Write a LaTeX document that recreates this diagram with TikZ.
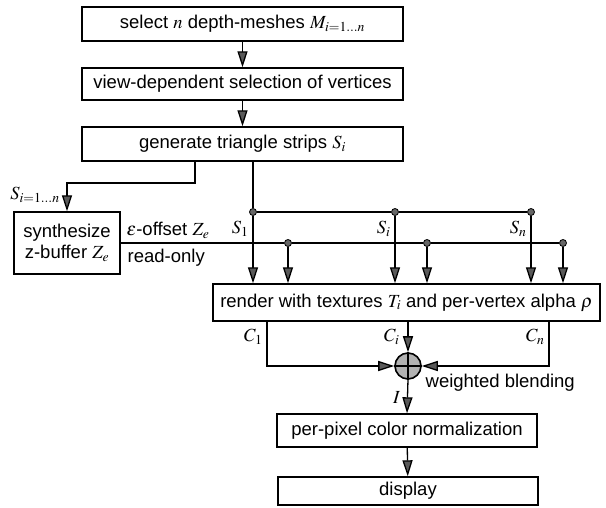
\documentclass[tikz,border=0pt]{standalone}
\usepackage{mathptmx}
\usepackage[no-math]{fontspec}
\setmainfont{Liberation Sans}
\usepackage{tikz}
\usetikzlibrary{arrows.meta,calc}
\newcommand{\diagfont}{\fontsize{18.5}{21}\selectfont}
\tikzset{box/.style={draw,line width=1.4pt,inner sep=0pt,align=center,font=\diagfont}}
\tikzset{arr/.style={line width=1.3pt,-{Triangle[width=10pt,length=16pt,fill=black!65]}}}
\tikzset{dot/.style={circle,draw,fill=black!60,line width=0.8pt,inner sep=0pt,minimum size=7pt}}
\tikzset{lbl/.style={inner sep=1pt,font=\diagfont}}

\begin{document}
\begin{tikzpicture}
[x=1pt,y=-1pt,line width=1.3pt]
\useasboundingbox (0,0) rectangle (606,508);
\node (sel) at (242.5,24)[box,minimum width=321pt,minimum height=34pt]{select $n$ depth-meshes $M_{i=1\ldots n}$};
\node (view) at (242.5,84)[box,minimum width=321pt,minimum height=32pt]{view-dependent selection of vertices};
\node (strips) at (242.5,144)[box,minimum width=321pt,minimum height=34pt]{generate triangle strips $S_i$};
\node (zbuf) at (67,243)[box,minimum width=106pt,minimum height=62pt]{synthesize\\z-buffer $Z_e$};
\node (render) at (406.5,302.5)[box,minimum width=387pt,minimum height=37pt]{render with textures $T_i$ and per-vertex alpha $\rho$};
\node (blend) at (408,366)[circle,draw,fill=black!30,line width=1.6pt,minimum size=26pt,inner sep=0pt]{};
\node (norm) at (407,430.5)[box,minimum width=260pt,minimum height=33pt]{per-pixel color normalization};
\node (disp) at (408,491)[box,minimum width=260pt,minimum height=28pt]{display};

\draw[arr] (sel) -- (view);
\draw[arr] (view) -- (strips);

\coordinate (split) at (195,183);
\draw[arr] (strips.south -| split) -- (split) -| (zbuf.north);
\node (sall) at (35,195)[lbl]{$S_{i=1\ldots n}$};

\node (d1) at (253,212)[dot]{};
\node (d2) at (395,212)[dot]{};
\node (d3) at (531,212)[dot]{};
\node (e1) at (288,243)[dot]{};
\node (e2) at (427,243)[dot]{};
\node (e3) at (563,243)[dot]{};
\draw (strips.south -| d1) -- (d1) -- (d2) -- (d3);
\draw (zbuf.east) -- (e1) -- (e2) -- (e3);
\foreach \d in {d1,d2,d3,e1,e2,e3}
  \draw[arr] (\d) -- (\d |- render.north);

\node (s1) at (250,229)[lbl,anchor=east]{$S_1$};
\node (si) at (392,229)[lbl,anchor=east]{$S_i$};
\node (sn) at (528,229)[lbl,anchor=east]{$S_n$};
\node (off) at (125,230)[lbl,anchor=west]{$\epsilon$-offset $Z_e$};
\node (ro) at (126,258)[lbl,anchor=west]{read-only};

\coordinate (cone) at (267,366);
\coordinate (cn) at (549,366);
\draw[arr] (render.south -| cone) |- (blend.west);
\draw[arr] (render.south -| cn) |- (blend.east);
\draw[arr] (render.south -| blend) -- (blend.north);
\draw (blend.north) -- (blend.south) (blend.west) -- (blend.east);
\node (c1) at (264,337)[lbl,anchor=east]{$C_1$};
\node (ci) at (401,337)[lbl,anchor=east]{$C_i$};
\node (cnl) at (546,337)[lbl,anchor=east]{$C_n$};
\node (wb) at (424,383)[lbl,anchor=west]{weighted blending};

\draw[arr] (blend.south) -- (norm.north);
\node (il) at (402,397)[lbl,anchor=east]{$I$};
\draw[arr] (norm) -- (disp);
\end{tikzpicture}
\end{document}
